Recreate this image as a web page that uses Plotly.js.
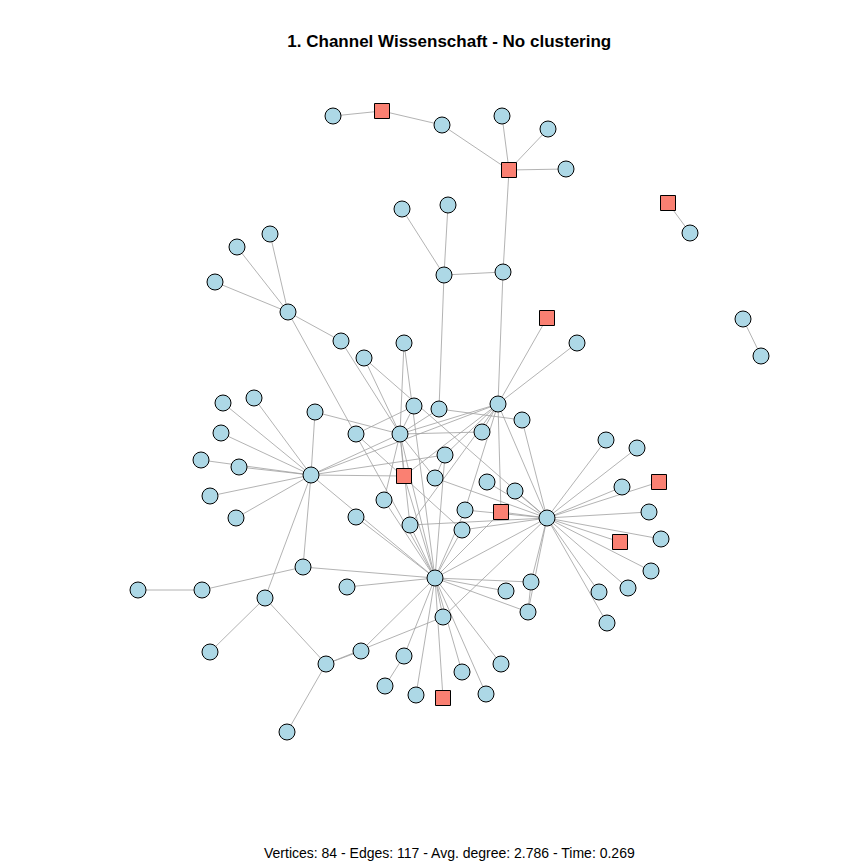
<!DOCTYPE html>
<html>
<head>
<meta charset="utf-8">
<script src="https://cdn.plot.ly/plotly-3.0.1.min.js"></script>
<style>body{margin:0;background:#fff}#plot{width:864px;height:864px}</style>
</head>
<body>
<div id="plot"></div>
<script>
// node layout (pixel space, y down)
const nodeIds = ['t1','t2','t3','t4','t5','t6','t7','i1','i2','i3','i4','u1','u2','u3','u4','l1','l2','l3','l4',
  'm1','m2','m3','m4','m5','c1','c2','c3','c4','c5','c6','HL','c7','c8',
  'd1','HC','d2','d3','HT','d4','d5','d6','d7','d8','d9','d10','d11','d12','d13','d14','HR','d15','d16',
  'b1','b2','b3','b4','HB','b5','b6','b7','b8','b9',
  'e1','e2','e3','e4','e5','e6','e7','e8','e9','e10','e11',
  'r1','r2','r3','r4','r5','r6','r7','r8','r9','r10','r11'];
const nodeX = [333,382,442,502,548,509,566,668,690,743,761,402,448,444,503,237,270,215,288,
  341,364,404,547,577,223,254,315,221,201,239,311,210,236,
  356,400,414,439,498,522,482,445,404,435,384,356,487,515,465,501,547,410,462,
  303,202,138,347,435,265,506,531,528,443,
  210,326,361,287,404,385,416,443,462,486,501,
  606,637,622,659,649,620,661,651,628,599,607];
const nodeY = [116,111,125,116,129,170,169,203,233,319,356,209,205,275,272,247,234,282,312,
  341,358,343,318,343,403,398,412,433,460,467,475,496,518,
  434,434,406,409,404,420,432,455,476,478,500,517,482,491,510,512,518,525,530,
  567,590,590,587,578,598,591,582,612,617,
  652,664,651,732,656,686,695,698,672,694,664,
  440,448,487,482,512,542,539,571,588,592,623];
const squareIds = ['t2','t6','i1','m4','d7','d14','e8','r4','r6'];

const edgeList = [
  ['t1','t2'],['t2','t3'],['t3','t6'],['t4','t6'],['t5','t6'],['t7','t6'],['t6','u4'],
  ['i1','i2'],['i3','i4'],
  ['u1','u3'],['u2','u3'],['u3','u4'],['u3','d3'],['u4','HT'],
  ['l1','l4'],['l2','l4'],['l3','l4'],['l4','m1'],['l4','HB'],
  ['HL','c1'],['HL','c2'],['HL','c3'],['HL','c4'],['HL','c5'],['HL','c6'],['HL','c7'],['HL','c8'],
  ['HL','d7'],['HL','HC'],['HL','b1'],['HL','HB'],['HL','d6'],['HL','HT'],['c3','HC'],['HL','b5'],
  ['HC','d2'],['HC','d3'],['d1','d2'],['HC','d5'],['HC','d8'],['HC','d7'],['HC','d15'],
  ['HC','m1'],['HC','m2'],['HC','m3'],['HC','HB'],['HC','HT'],
  ['HT','m4'],['HT','m5'],['d3','d4'],['HT','d5'],['HT','d6'],['HT','d13'],['HT','d14'],['HT','HR'],['HT','d15'],['HT','d7'],
  ['HR','d4'],['HR','d11'],['HR','d12'],['HR','d14'],['HR','d13'],['HR','d16'],['HR','d15'],['HR','d8'],
  ['HR','r1'],['HR','r2'],['HR','r3'],['HR','r4'],['HR','r5'],['HR','r6'],['HR','r7'],['HR','r8'],
  ['HR','r9'],['HR','r10'],['HR','r11'],['HR','b7'],['HR','b8'],['HR','HB'],['HR','m2'],['HR','b9'],
  ['HB','b1'],['HB','b4'],['HB','d9'],['HB','d7'],['HB','d15'],['HB','d16'],['HB','d13'],['HB','b9'],
  ['HB','b6'],['HB','b7'],['HB','b8'],['HB','e3'],['HB','e5'],['HB','e7'],['HB','e8'],['HB','e9'],
  ['HB','e10'],['HB','e11'],['HB','d6'],['HB','d14'],['HB','d10'],['HB','m3'],
  ['b9','e2'],['b7','b8'],['b2','b3'],['b2','b1'],['b5','e1'],['b5','e2'],
  ['e2','e4'],['e2','e3'],['e6','e5'],['d1','d16'],['d8','d6'],['d9','HC']
];

const idx = {};
nodeIds.forEach((id, i) => idx[id] = i);

const ex = [], ey = [];
edgeList.forEach(([a, b]) => {
  ex.push(nodeX[idx[a]], nodeX[idx[b]], null);
  ey.push(nodeY[idx[a]], nodeY[idx[b]], null);
});

const isSq = nodeIds.map(id => squareIds.includes(id));

const traces = [
  { x: ex, y: ey, mode: 'lines', type: 'scatter', hoverinfo: 'skip',
    line: { color: '#a0a0a0', width: 0.8 } },
  { x: nodeX.filter((_, i) => !isSq[i]), y: nodeY.filter((_, i) => !isSq[i]),
    mode: 'markers', type: 'scatter',
    marker: { symbol: 'circle', size: 16, color: '#add8e6', line: { color: '#000', width: 1 } } },
  { x: nodeX.filter((_, i) => isSq[i]), y: nodeY.filter((_, i) => isSq[i]),
    mode: 'markers', type: 'scatter',
    marker: { symbol: 'square', size: 15, color: '#fa8072', line: { color: '#000', width: 1 } } }
];

const layout = {
  width: 864, height: 864,
  showlegend: false,
  margin: { l: 0, r: 0, t: 0, b: 0 },
  paper_bgcolor: '#fff', plot_bgcolor: '#fff',
  font: { family: 'Liberation Sans, Arial, sans-serif', color: '#000' },
  title: { text: '<b>1. Channel Wissenschaft - No clustering</b>', x: 0.52, xanchor: 'center',
    y: 0.953, yanchor: 'middle', font: { size: 17 } },
  xaxis: { range: [0, 864], visible: false, fixedrange: true },
  yaxis: { range: [864, 0], visible: false, fixedrange: true },
  annotations: [{
    text: 'Vertices: 84 - Edges: 117 - Avg. degree: 2.786 - Time: 0.269',
    xref: 'paper', yref: 'paper', x: 0.52, y: 0.013, xanchor: 'center', yanchor: 'middle',
    showarrow: false, font: { size: 14 }
  }]
};

Plotly.newPlot('plot', traces, layout, { displayModeBar: false, staticPlot: true });
</script>
</body>
</html>
